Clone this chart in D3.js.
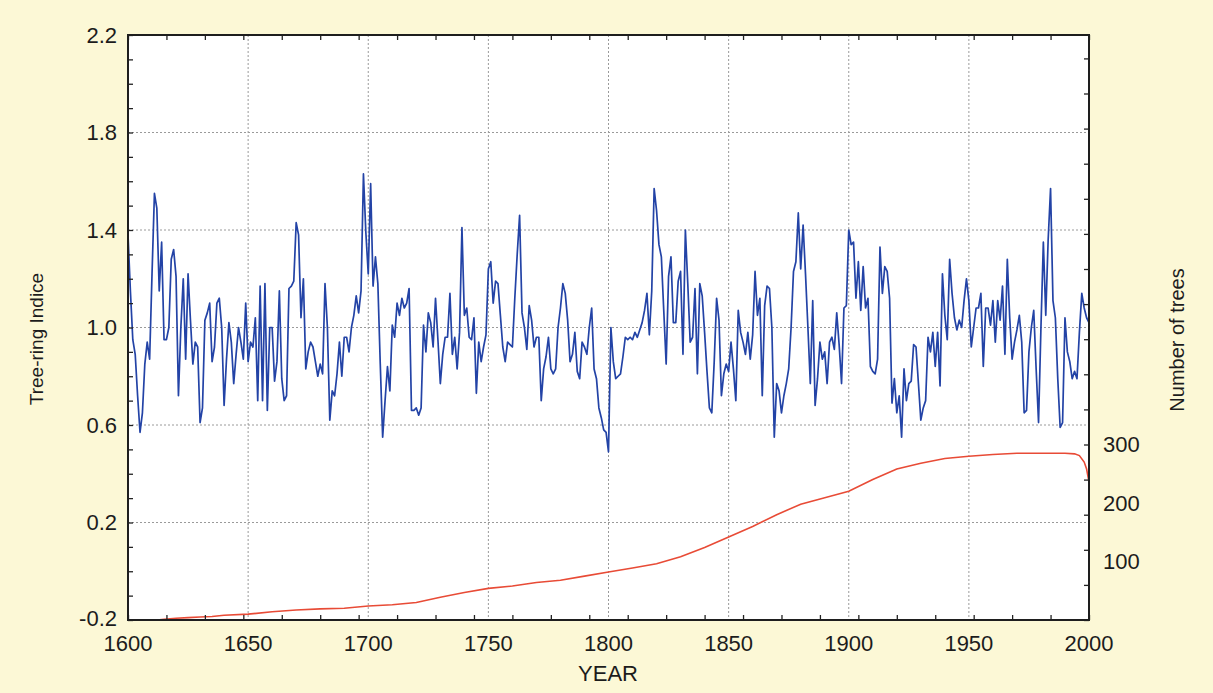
<!DOCTYPE html>
<html>
<head>
<meta charset="utf-8">
<script src="https://cdnjs.cloudflare.com/ajax/libs/d3/7.8.5/d3.min.js"></script>
<style>
  body { margin: 0; background: #fcf8d6; }
  text { font-family: "Liberation Sans", Arial, sans-serif; fill: #1c1c1c; }
</style>
</head>
<body>
<div id="chartContainer"></div>
<script>
  // Tree-ring index, one value per year from 1600 to 2000
  var years = d3.range(1600, 2001);
  var ringIndex = [
    1.38, 1.15, 0.95, 0.89, 0.72, 0.57, 0.65, 0.85, 0.94, 0.87,
    1.22, 1.55, 1.49, 1.15, 1.35, 0.95, 0.95, 1.00, 1.28, 1.32,
    1.21, 0.72, 1.00, 1.20, 0.87, 1.22, 1.03, 0.85, 0.94, 0.92,
    0.61, 0.67, 1.03, 1.06, 1.10, 0.86, 0.92, 1.10, 1.12, 1.00,
    0.68, 0.87, 1.02, 0.94, 0.77, 0.89, 1.00, 0.94, 0.87, 1.10,
    0.86, 0.94, 0.92, 1.04, 0.70, 1.17, 0.70, 1.18, 0.66, 1.00,
    1.00, 0.78, 0.86, 1.15, 0.79, 0.70, 0.72, 1.16, 1.17, 1.19,
    1.43, 1.38, 1.04, 1.20, 0.83, 0.90, 0.94, 0.92, 0.86, 0.80,
    0.85, 0.81, 1.18, 1.00, 0.62, 0.74, 0.72, 0.81, 0.94, 0.80,
    0.96, 0.96, 0.90, 1.00, 1.05, 1.13, 1.06, 1.15, 1.63, 1.39,
    1.22, 1.59, 1.17, 1.29, 1.18, 0.85, 0.55, 0.70, 0.84, 0.74,
    1.01, 0.96, 1.10, 1.05, 1.12, 1.08, 1.10, 1.16, 0.66, 0.66,
    0.67, 0.64, 0.67, 1.01, 0.90, 1.06, 1.02, 0.92, 1.12, 0.95,
    0.77, 0.89, 0.96, 0.96, 1.14, 0.89, 0.96, 0.83, 0.98, 1.41,
    1.05, 1.08, 0.96, 0.95, 1.04, 0.73, 0.94, 0.86, 0.92, 0.97,
    1.24, 1.27, 1.10, 1.19, 1.18, 1.05, 0.92, 0.86, 0.94, 0.93,
    0.92, 1.12, 1.30, 1.46, 1.06, 1.00, 0.91, 1.09, 1.03, 0.92,
    0.96, 0.96, 0.70, 0.83, 0.88, 0.96, 0.83, 0.81, 0.83, 1.00,
    1.08, 1.18, 1.14, 1.03, 0.86, 0.89, 0.98, 0.82, 0.79, 0.94,
    0.92, 0.89, 1.00, 1.08, 0.83, 0.79, 0.67, 0.63, 0.58, 0.57,
    0.49, 1.00, 0.86, 0.79, 0.80, 0.81, 0.88, 0.96, 0.95, 0.96,
    0.95, 0.98, 0.96, 0.99, 1.02, 1.07, 1.14, 0.97, 1.15, 1.57,
    1.48, 1.34, 1.29, 1.07, 0.85, 1.21, 1.29, 1.02, 1.02, 1.19,
    1.23, 0.89, 1.40, 1.18, 0.94, 0.96, 1.16, 0.81, 1.18, 1.13,
    0.98, 0.82, 0.67, 0.65, 0.86, 1.12, 1.03, 0.72, 0.81, 0.85,
    0.82, 0.94, 0.83, 0.70, 1.07, 0.98, 0.94, 0.89, 0.98, 0.87,
    0.97, 1.23, 1.05, 1.12, 0.72, 1.09, 1.17, 1.16, 1.00, 0.55,
    0.77, 0.74, 0.65, 0.72, 0.77, 0.83, 1.00, 1.23, 1.27, 1.47,
    1.24, 1.42, 1.22, 1.00, 0.77, 1.11, 0.68, 0.79, 0.94, 0.87,
    0.90, 0.77, 0.94, 0.96, 0.91, 1.06, 0.93, 0.77, 1.08, 1.09,
    1.40, 1.34, 1.35, 1.12, 1.27, 1.07, 1.25, 1.08, 1.12, 0.84,
    0.82, 0.81, 0.87, 1.33, 1.14, 1.25, 1.23, 1.12, 0.69, 0.79,
    0.65, 0.72, 0.55, 0.83, 0.70, 0.77, 0.78, 0.93, 0.92, 0.77,
    0.62, 0.67, 0.70, 0.96, 0.90, 0.98, 0.84, 0.98, 0.76, 1.22,
    1.05, 0.95, 1.28, 1.14, 1.04, 0.99, 1.03, 1.00, 1.11, 1.20,
    1.11, 0.92, 1.00, 1.08, 1.08, 1.14, 0.84, 1.08, 1.08, 1.01,
    1.11, 0.94, 1.11, 1.03, 1.17, 0.89, 1.28, 1.04, 0.87, 0.94,
    0.99, 1.05, 0.94, 0.65, 0.66, 0.90, 1.00, 1.07, 0.83, 0.61,
    1.00, 1.35, 1.05, 1.36, 1.57, 1.11, 1.04, 0.79, 0.59, 0.61,
    1.04, 0.90, 0.86, 0.79, 0.82, 0.79, 0.98, 1.14, 1.08, 1.04,
    1.02
  ];

  // Number of trees (sample depth), right axis
  var treeYears = [1612, 1615, 1620, 1625, 1630, 1635, 1640, 1650, 1660, 1670,
                   1680, 1690, 1700, 1710, 1720, 1730, 1740, 1750, 1760, 1770,
                   1780, 1790, 1800, 1810, 1820, 1830, 1840, 1850, 1860, 1870,
                   1880, 1890, 1900, 1910, 1920, 1930, 1940, 1950, 1960, 1970,
                   1980, 1990, 1994, 1996, 1998, 1999, 2000];
  var treeCounts = [0, 1, 3, 4, 5, 6, 8, 10, 14, 17,
                    19, 20, 24, 26, 30, 39, 47, 54, 58, 64,
                    68, 75, 82, 89, 96, 108, 124, 142, 160, 180,
                    198, 209, 220, 240, 258, 268, 276, 280, 283, 285,
                    285, 285, 284, 281, 270, 258, 236];

  // Tick labels
  var yearTicks = [1600, 1650, 1700, 1750, 1800, 1850, 1900, 1950, 2000];
  var indexTicks = [-0.2, 0.2, 0.6, 1.0, 1.4, 1.8, 2.2];
  var treeTicks = [100, 200, 300];

  var width = 1213, height = 693;
  var plotLeft = 128, plotRight = 1089, plotTop = 35, plotBottom = 620;

  var svg = d3.select("#chartContainer").append("svg")
    .attr("width", width)
    .attr("height", height);

  svg.append("rect")
    .attr("width", width).attr("height", height)
    .style("fill", "#fcf8d6");

  var x = d3.scaleLinear().domain([1600, 2000]).range([plotLeft, plotRight]);
  var y = d3.scaleLinear().domain([-0.2, 2.2]).range([plotBottom, plotTop]);
  var yTrees = d3.scaleLinear().domain([0, 1000]).range([plotBottom, plotTop]);

  // White plot area
  svg.append("rect")
    .attr("x", plotLeft).attr("y", plotTop)
    .attr("width", plotRight - plotLeft).attr("height", plotBottom - plotTop)
    .style("fill", "#ffffff");

  // Dotted grid
  var grid = svg.append("g")
    .style("stroke", "#9a9a9a")
    .style("stroke-width", 1)
    .style("stroke-dasharray", "2,2");
  grid.selectAll("line.gx")
    .data(yearTicks.slice(1, -1))
    .enter().append("line")
      .attr("class", "gx")
      .attr("x1", function (d) { return x(d); })
      .attr("x2", function (d) { return x(d); })
      .attr("y1", plotTop).attr("y2", plotBottom);
  grid.selectAll("line.gy")
    .data(indexTicks.slice(1, -1))
    .enter().append("line")
      .attr("class", "gy")
      .attr("y1", function (d) { return y(d); })
      .attr("y2", function (d) { return y(d); })
      .attr("x1", plotLeft).attr("x2", plotRight);

  // Number of trees line
  var treeLine = d3.line()
    .x(function (d, i) { return x(treeYears[i]); })
    .y(function (d) { return yTrees(d); });
  svg.append("path")
    .datum(treeCounts)
    .attr("d", treeLine)
    .style("fill", "none")
    .style("stroke", "#e84b36")
    .style("stroke-width", 1.6);

  // Tree-ring index line
  var indexLine = d3.line()
    .x(function (d, i) { return x(years[i]); })
    .y(function (d) { return y(d); });
  svg.append("path")
    .datum(ringIndex)
    .attr("d", indexLine)
    .style("fill", "none")
    .style("stroke", "#2343a6")
    .style("stroke-width", 1.7)
    .style("stroke-linejoin", "round");

  // Small inward ticks on all four sides
  function minorTicks(axis, tx, ty) {
    var g = svg.append("g")
      .attr("transform", "translate(" + tx + "," + ty + ")")
      .call(axis);
    g.selectAll("text").remove();
    g.select(".domain").remove();
    g.selectAll("line").style("stroke", "#222").style("stroke-width", 1.3);
  }
  minorTicks(d3.axisLeft(y).tickValues(d3.range(-2, 23).map(function (d) { return d / 10; })).tickSize(-5), plotLeft, 0);
  minorTicks(d3.axisBottom(x).tickValues(d3.range(1600, 2001, 16)).tickSize(-5), 0, plotBottom);
  minorTicks(d3.axisTop(x).tickValues(d3.range(1600, 2001, 16)).tickSize(-5), 0, plotTop);
  minorTicks(d3.axisRight(yTrees).tickValues(d3.range(0, 1001, 60)).tickSize(-5), plotRight, 0);

  // Frame
  svg.append("rect")
    .attr("x", plotLeft).attr("y", plotTop)
    .attr("width", plotRight - plotLeft).attr("height", plotBottom - plotTop)
    .style("fill", "none")
    .style("stroke", "#1e1e1e")
    .style("stroke-width", 2);

  // Tick labels
  var labelSize = "22px";
  svg.selectAll("text.ylab")
    .data(indexTicks)
    .enter().append("text")
      .attr("class", "ylab")
      .attr("x", plotLeft - 11)
      .attr("y", function (d) { return y(d); })
      .attr("dy", function (d) { return d < 0 ? "0.26em" : "0.36em"; })
      .attr("text-anchor", "end")
      .style("font-size", labelSize)
      .text(function (d) { return d.toFixed(1); });

  svg.selectAll("text.xlab")
    .data(yearTicks)
    .enter().append("text")
      .attr("class", "xlab")
      .attr("x", function (d) { return x(d); })
      .attr("y", 651)
      .attr("text-anchor", "middle")
      .style("font-size", labelSize)
      .text(function (d) { return d; });

  svg.selectAll("text.tlab")
    .data(treeTicks)
    .enter().append("text")
      .attr("class", "tlab")
      .attr("x", plotRight + 14)
      .attr("y", function (d) { return yTrees(d); })
      .attr("dy", "0.36em")
      .attr("text-anchor", "start")
      .style("font-size", labelSize)
      .text(function (d) { return d; });

  // Axis titles
  svg.append("text")
    .attr("x", 608).attr("y", 681)
    .attr("text-anchor", "middle")
    .style("font-size", "22px")
    .text("YEAR");

  svg.append("text")
    .attr("transform", "translate(43,339) rotate(-90)")
    .attr("text-anchor", "middle")
    .style("font-size", "19px")
    .text("Tree-ring Indice");

  svg.append("text")
    .attr("transform", "translate(1184,340) rotate(-90)")
    .attr("text-anchor", "middle")
    .style("font-size", "20px")
    .text("Number of trees");
</script>
</body>
</html>
